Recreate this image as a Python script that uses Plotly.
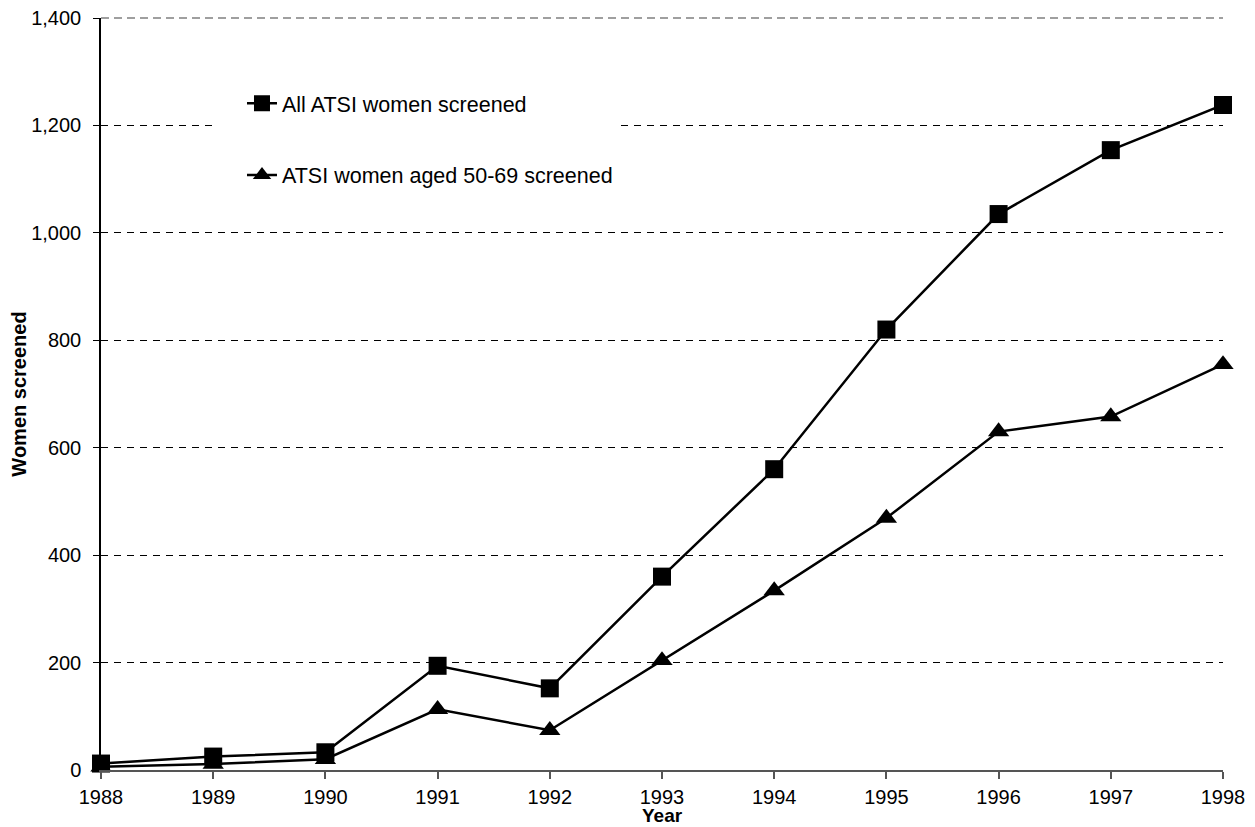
import plotly.graph_objects as go

years = [1988, 1989, 1990, 1991, 1992, 1993, 1994, 1995, 1996, 1997, 1998]
all_atsi = [12, 25, 33, 194, 152, 360, 560, 820, 1035, 1154, 1238]
aged_50_69 = [6, 11, 20, 113, 74, 204, 334, 469, 630, 658, 755]
y_ticks = [0, 200, 400, 600, 800, 1000, 1200, 1400]

FONT = "Liberation Sans, Arial, sans-serif"

fig = go.Figure()
fig.add_trace(go.Scatter(
    x=years, y=all_atsi, mode="lines+markers",
    name="All ATSI women screened", legendgroup="a",
    line=dict(color="black", width=2.5),
    marker=dict(symbol="square", size=18, color="black"),
    cliponaxis=False,
))
fig.add_trace(go.Scatter(
    x=years, y=aged_50_69, mode="lines+markers",
    name="ATSI women aged 50-69 screened", legendgroup="b",
    line=dict(color="black", width=2.5),
    marker=dict(symbol="triangle-up", size=18.5, color="black"),
    cliponaxis=False,
))

fig.update_layout(
    width=1255, height=827,
    margin=dict(l=93, r=40, t=10, b=65),
    paper_bgcolor="white", plot_bgcolor="white",
    font=dict(family=FONT, size=20, color="black"),
    showlegend=True,
    legend=dict(
        x=0.1016, y=0.914, xanchor="left", yanchor="top",
        bgcolor="white", borderwidth=0,
        font=dict(family=FONT, size=21.5, color="black"),
        tracegroupgap=41, traceorder="grouped",
        indentation=27,
    ),
    xaxis=dict(
        range=[1988, 1998], tickvals=years, ticktext=[str(y) for y in years],
        showgrid=False, zeroline=False,
        showline=True, linecolor="#555", linewidth=1.5,
        ticks="outside", ticklen=7, tickcolor="#555", tickwidth=1.5,
        ticklabelstandoff=1, ticklabeloverflow="allow",
        tickfont=dict(family=FONT, size=20, color="black"),
        automargin=False,
    ),
    yaxis=dict(
        range=[0, 1400], tickvals=y_ticks, tickformat=",",
        showgrid=True, gridcolor="black", gridwidth=1, griddash="7px,6px",
        zeroline=False,
        showline=True, linecolor="black", linewidth=1.5,
        ticks="outside", ticklen=6, tickcolor="black", tickwidth=1,
        ticklabelstandoff=8, ticklabeloverflow="allow",
        tickfont=dict(family=FONT, size=20, color="black"),
        title=dict(text="<b>Women screened</b>", standoff=0,
                   font=dict(family=FONT, size=20, color="black")),
        automargin=False,
    ),
    annotations=[
        dict(text="<b>Year</b>", xref="paper", yref="paper", x=0.5, y=0,
             xanchor="center", yanchor="middle", yshift=-45, showarrow=False,
             font=dict(family=FONT, size=19, color="black")),
    ],
    shapes=[
        dict(type="line", xref="paper", yref="paper", x0=0, x1=1, y0=1, y1=1,
             line=dict(color="white", width=2), layer="above"),
        dict(type="line", xref="paper", yref="paper", x0=0, x1=1, y0=1, y1=1,
             line=dict(color="#808080", width=1.5, dash="8px,5px"), layer="above"),
    ],
)

fig.write_html("out.html")
